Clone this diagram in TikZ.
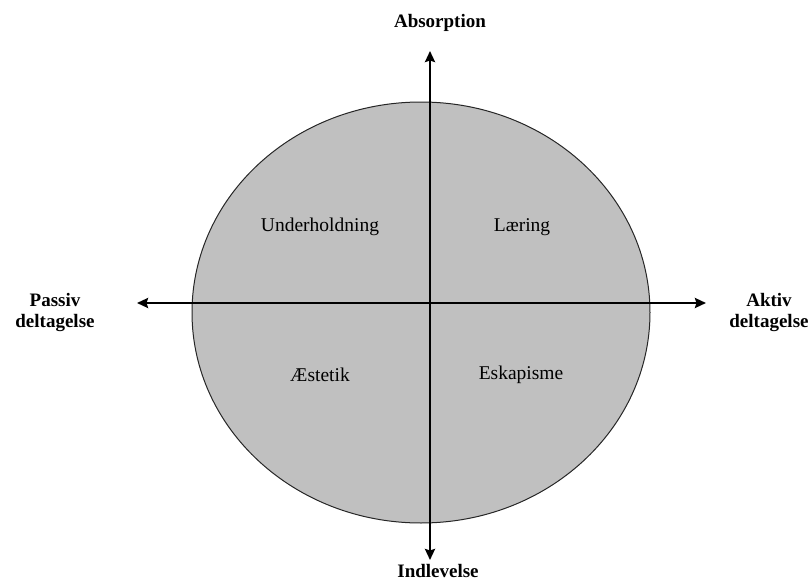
\documentclass[tikz,border=0pt]{standalone}
\usepackage{fontspec}
\setmainfont{Liberation Serif}
\usetikzlibrary{arrows.meta,shapes.geometric}
\definecolor{quadfill}{HTML}{C0C0C0}
\begin{document}
\begin{tikzpicture}[x=1pt,y=1pt,
  axislabel/.style={font=\fontsize{19}{21}\selectfont\bfseries, align=center, inner sep=0pt},
  quadlabel/.style={font=\fontsize{19.5}{22}\selectfont, inner sep=0pt},
  axisline/.style={line width=2.4pt, -{Stealth[length=11pt,width=10pt,inset=1.5pt]}},
  disc/.style={ellipse, draw=black!85, line width=1pt, fill=quadfill, minimum width=458pt, minimum height=421pt, inner sep=0pt}]
\useasboundingbox (0,0) rectangle (812,-581);
\node[disc] (c) at (421,-312.5) {};
\coordinate (o) at (430,-303);
\coordinate (left) at (137,-303);
\coordinate (right) at (706,-303);
\coordinate (top) at (430,-51);
\coordinate (bot) at (430,-560);
\draw[axisline] (o) -- (left);
\draw[axisline] (o) -- (right);
\draw[axisline] (o) -- (top);
\draw[axisline] (o) -- (bot);
\node[axislabel] (abs) at (440,-23) {Absorption};
\node[axislabel] (ind) at (438,-571) {Indlevelse};
\node[axislabel] (pas) at (55,-313) {Passiv\\deltagelse};
\node[axislabel] (akt) at (769,-313) {Aktiv\\deltagelse};
\node[quadlabel] (q1) at (320,-227) {Underholdning};
\node[quadlabel] (q2) at (522,-227) {Læring};
\node[quadlabel] (q3) at (320,-375) {Æstetik};
\node[quadlabel] (q4) at (521,-375) {Eskapisme};
\end{tikzpicture}
\end{document}
